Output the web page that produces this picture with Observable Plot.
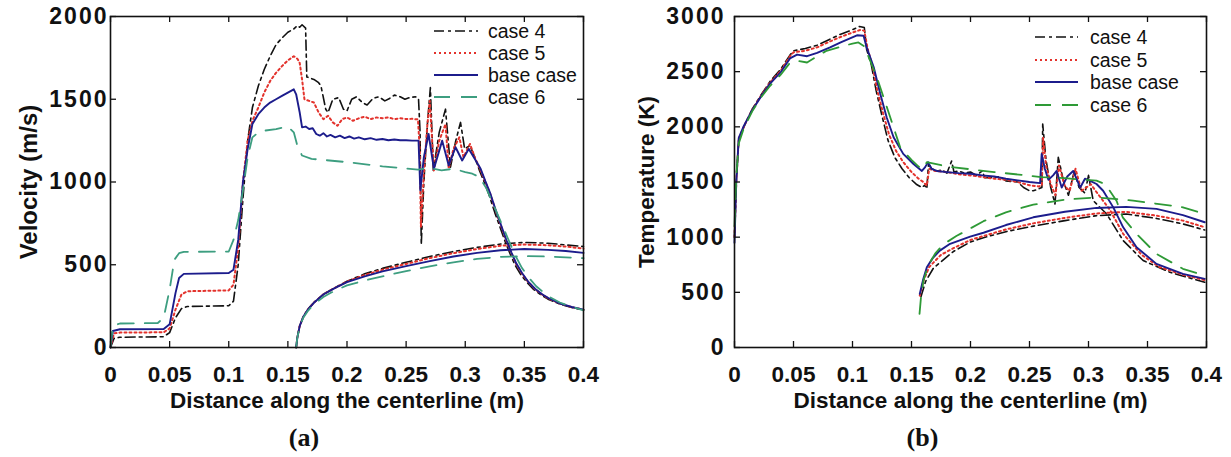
<!DOCTYPE html>
<html><head><meta charset="utf-8">
<script src="https://cdn.jsdelivr.net/npm/d3@7"></script>
<script src="https://cdn.jsdelivr.net/npm/@observablehq/plot@0.6"></script>
<style>
body{margin:0;background:#fff;font-family:"Liberation Sans",Arial,sans-serif}
#wrap{position:relative;width:1231px;height:457px;overflow:hidden;background:#fff}
#wrap > svg{position:absolute;top:0}
.lg{position:absolute;display:flex;align-items:center;height:22px;font-size:19.5px;color:#111;white-space:nowrap}
</style></head><body><div id="wrap"></div>
<script>
// ---------- shared ----------
const caseNames = ["case 4", "case 5", "base case", "case 6"];
const xTicks = [0, 0.05, 0.1, 0.15, 0.2, 0.25, 0.3, 0.35, 0.4];
const xTickLabels = ["0", "0.05", "0.1", "0.15", "0.2", "0.25", "0.3", "0.35", "0.4"];
const xTitle = "Distance along the centerline (m)";

// ---------- panel (a): velocity ----------
const velTicks = [0, 500, 1000, 1500, 2000];
const velTickLabels = ["0", "500", "1000", "1500", "2000"];
const velTitle = "Velocity (m/s)";

const velCase4Main = [[0,0],[0.003,55],[0.008,62],[0.045,65],[0.05,90],[0.055,180],[0.06,235],[0.065,248],[0.1,252],[0.104,280],[0.108,500],[0.112,900],[0.116,1250],[0.12,1450],[0.125,1580],[0.13,1680],[0.135,1760],[0.14,1830],[0.145,1870],[0.15,1905],[0.155,1925],[0.158,1945],[0.16,1935],[0.162,1950],[0.165,1930],[0.166,1635],[0.172,1620],[0.176,1600],[0.178,1580],[0.182,1440],[0.184,1420],[0.188,1500],[0.193,1510],[0.197,1440],[0.2,1430],[0.204,1500],[0.208,1515],[0.213,1480],[0.217,1465],[0.222,1505],[0.227,1515],[0.232,1490],[0.236,1505],[0.24,1525],[0.245,1515],[0.249,1500],[0.253,1510],[0.258,1515],[0.2605,1500],[0.2618,1300],[0.2628,620],[0.265,1000],[0.268,1350],[0.2705,1570],[0.273,1070],[0.278,1300],[0.2833,1440],[0.2875,1090],[0.292,1250],[0.296,1360],[0.2995,1200],[0.304,1220],[0.308,1150],[0.312,1070],[0.316,1000],[0.32,925],[0.325,815],[0.33,715],[0.334,635],[0.338,565],[0.342,500],[0.347,440],[0.352,395],[0.358,350],[0.364,318],[0.37,292],[0.38,262],[0.39,242],[0.4,226]];
const velCase4Arc = [[0.157,0],[0.158,60],[0.16,130],[0.163,185],[0.167,232],[0.172,272],[0.18,322],[0.19,362],[0.2,400],[0.215,445],[0.23,478],[0.25,515],[0.27,550],[0.29,580],[0.31,605],[0.33,625],[0.35,635],[0.37,630],[0.385,620],[0.4,610]];

const velCase5Main = [[0,0],[0.003,85],[0.008,90],[0.045,92],[0.05,115],[0.055,230],[0.06,320],[0.065,340],[0.1,345],[0.104,380],[0.108,600],[0.112,1000],[0.116,1250],[0.12,1370],[0.125,1450],[0.13,1540],[0.135,1610],[0.14,1660],[0.145,1700],[0.15,1735],[0.155,1760],[0.158,1745],[0.16,1720],[0.162,1620],[0.164,1500],[0.168,1490],[0.172,1480],[0.176,1420],[0.18,1380],[0.184,1400],[0.188,1360],[0.192,1340],[0.196,1380],[0.2,1390],[0.205,1370],[0.21,1385],[0.215,1395],[0.22,1380],[0.225,1390],[0.23,1385],[0.235,1390],[0.24,1380],[0.245,1385],[0.25,1380],[0.255,1382],[0.26,1378],[0.2615,1200],[0.2625,730],[0.265,1050],[0.268,1350],[0.27,1490],[0.2735,1070],[0.278,1250],[0.2833,1350],[0.286,1080],[0.29,1200],[0.295,1270],[0.2985,1150],[0.304,1230],[0.308,1150],[0.313,1070],[0.317,1000],[0.321,930],[0.326,820],[0.331,720],[0.335,640],[0.339,570],[0.343,505],[0.348,445],[0.353,398],[0.359,352],[0.365,320],[0.371,294],[0.38,265],[0.39,244],[0.4,228]];
const velCase5Arc = [[0.157,0],[0.158,60],[0.16,130],[0.163,185],[0.167,231],[0.172,271],[0.18,321],[0.19,361],[0.2,398],[0.215,438],[0.23,470],[0.25,505],[0.27,540],[0.29,570],[0.31,595],[0.33,615],[0.35,622],[0.37,618],[0.385,610],[0.4,598]];

const velBaseMain = [[0,0],[0.002,100],[0.008,110],[0.045,112],[0.05,140],[0.055,330],[0.058,420],[0.062,445],[0.1,450],[0.104,470],[0.108,650],[0.112,1000],[0.116,1200],[0.12,1350],[0.125,1410],[0.13,1450],[0.135,1480],[0.14,1500],[0.145,1520],[0.15,1540],[0.155,1560],[0.157,1530],[0.16,1420],[0.162,1330],[0.165,1335],[0.168,1320],[0.171,1325],[0.174,1290],[0.177,1280],[0.18,1295],[0.183,1275],[0.186,1285],[0.19,1270],[0.194,1280],[0.198,1265],[0.202,1275],[0.206,1262],[0.21,1270],[0.215,1258],[0.22,1265],[0.225,1255],[0.23,1260],[0.235,1252],[0.24,1257],[0.245,1252],[0.25,1252],[0.255,1250],[0.2605,1250],[0.262,950],[0.265,1150],[0.269,1290],[0.2735,1080],[0.2805,1250],[0.286,1100],[0.2918,1210],[0.2974,1130],[0.303,1200],[0.308,1140],[0.313,1080],[0.317,1005],[0.321,935],[0.326,825],[0.331,725],[0.335,645],[0.339,575],[0.343,510],[0.348,450],[0.353,400],[0.359,355],[0.365,322],[0.371,296],[0.38,266],[0.39,245],[0.4,229]];
const velBaseArc = [[0.157,0],[0.158,60],[0.16,130],[0.163,185],[0.167,230],[0.172,270],[0.18,320],[0.19,360],[0.2,395],[0.215,430],[0.23,460],[0.25,492],[0.27,522],[0.29,550],[0.31,572],[0.33,588],[0.35,595],[0.37,590],[0.385,583],[0.4,572]];

const velCase6Main = [[0,0],[0.002,130],[0.008,145],[0.04,148],[0.045,180],[0.05,350],[0.054,530],[0.058,570],[0.062,578],[0.1,580],[0.104,650],[0.108,770],[0.112,950],[0.116,1150],[0.12,1270],[0.125,1300],[0.13,1310],[0.14,1320],[0.15,1335],[0.155,1300],[0.158,1220],[0.162,1160],[0.17,1140],[0.2,1120],[0.23,1095],[0.26,1075],[0.27,1085],[0.28,1070],[0.29,1080],[0.3,1060],[0.306,1050],[0.312,1030],[0.318,960],[0.324,860],[0.33,760],[0.336,660],[0.342,560],[0.348,480],[0.354,420],[0.36,370],[0.37,310],[0.38,272],[0.39,245],[0.4,225]];
const velCase6Arc = [[0.157,0],[0.158,60],[0.16,125],[0.163,180],[0.167,222],[0.172,260],[0.18,305],[0.19,345],[0.2,375],[0.215,405],[0.23,430],[0.25,462],[0.27,490],[0.29,515],[0.31,535],[0.33,548],[0.35,552],[0.37,550],[0.385,545],[0.4,540]];

// ---------- panel (b): temperature ----------
const tempTicks = [0, 500, 1000, 1500, 2000, 2500, 3000];
const tempTickLabels = ["0", "500", "1000", "1500", "2000", "2500", "3000"];
const tempTitle = "Temperature (K)";

const tempCase4Main = [[0,1000],[0.0015,1500],[0.0036,1880],[0.008,2000],[0.015,2160],[0.022,2280],[0.03,2410],[0.039,2520],[0.047,2650],[0.05,2689],[0.06,2710],[0.07,2740],[0.08,2790],[0.09,2840],[0.1,2880],[0.106,2910],[0.11,2900],[0.112,2700],[0.116,2560],[0.12,2330],[0.125,2100],[0.13,1880],[0.136,1720],[0.142,1620],[0.148,1540],[0.154,1480],[0.1588,1450],[0.161,1470],[0.163,1440],[0.1644,1663],[0.167,1620],[0.172,1600],[0.176,1610],[0.18,1580],[0.184,1690],[0.186,1590],[0.19,1600],[0.195,1580],[0.2,1590],[0.205,1560],[0.21,1600],[0.212,1540],[0.22,1540],[0.225,1550],[0.23,1510],[0.24,1500],[0.245,1450],[0.25,1420],[0.2532,1421],[0.256,1430],[0.2605,1450],[0.2612,2026],[0.264,1700],[0.268,1450],[0.2716,1301],[0.2744,1723],[0.279,1500],[0.283,1380],[0.288,1600],[0.292,1450],[0.297,1400],[0.3,1560],[0.304,1331],[0.3153,1211],[0.3294,969],[0.3463,788],[0.3689,682],[0.3985,591]];
const tempCase4Arc = [[0.158,460],[0.162,600],[0.1686,720],[0.1855,870],[0.1997,955],[0.211,995],[0.23,1050],[0.2532,1100],[0.28,1150],[0.3068,1195],[0.332,1210],[0.3576,1170],[0.38,1120],[0.3985,1065]];

const tempCase5Main = [[0,1000],[0.0015,1500],[0.0036,1890],[0.008,2005],[0.015,2155],[0.022,2275],[0.03,2400],[0.039,2505],[0.047,2640],[0.05,2675],[0.06,2690],[0.07,2720],[0.08,2770],[0.09,2815],[0.1,2855],[0.107,2880],[0.11,2870],[0.113,2700],[0.117,2550],[0.121,2330],[0.126,2120],[0.131,1930],[0.137,1780],[0.143,1680],[0.15,1590],[0.156,1530],[0.16,1500],[0.163,1467],[0.165,1620],[0.17,1600],[0.18,1590],[0.19,1570],[0.2,1560],[0.21,1545],[0.22,1530],[0.23,1520],[0.24,1500],[0.25,1470],[0.258,1460],[0.2605,1470],[0.2615,1900],[0.264,1650],[0.268,1480],[0.272,1380],[0.275,1650],[0.28,1460],[0.284,1420],[0.289,1620],[0.294,1420],[0.298,1450],[0.302,1480],[0.306,1420],[0.318,1250],[0.3294,1030],[0.345,840],[0.36,730],[0.38,660],[0.3985,610]];
const tempCase5Arc = [[0.157,470],[0.16,600],[0.165,730],[0.175,840],[0.1855,900],[0.2,975],[0.211,1010],[0.23,1070],[0.2532,1125],[0.28,1175],[0.3068,1215],[0.332,1230],[0.3576,1195],[0.38,1150],[0.3985,1090]];

const tempBaseMain = [[0,950],[0.0015,1500],[0.0036,1900],[0.008,2010],[0.015,2150],[0.022,2267],[0.03,2390],[0.039,2493],[0.047,2620],[0.053,2655],[0.0615,2640],[0.07,2670],[0.081,2720],[0.09,2765],[0.1038,2830],[0.1094,2825],[0.112,2720],[0.118,2540],[0.1235,2300],[0.129,2085],[0.1348,1905],[0.143,1755],[0.1517,1663],[0.1588,1600],[0.1616,1635],[0.164,1680],[0.167,1620],[0.1715,1600],[0.18,1590],[0.19,1580],[0.2,1575],[0.21,1560],[0.22,1550],[0.23,1530],[0.24,1515],[0.25,1500],[0.259,1490],[0.2603,1754],[0.263,1620],[0.266,1520],[0.27,1560],[0.273,1600],[0.2773,1450],[0.282,1550],[0.287,1600],[0.293,1450],[0.297,1530],[0.301,1512],[0.3068,1482],[0.3124,1421],[0.321,1270],[0.3294,1089],[0.3407,908],[0.3576,758],[0.38,667],[0.3985,622]];
const tempBaseArc = [[0.157,486],[0.16,620],[0.163,727],[0.168,810],[0.174,878],[0.1827,940],[0.1997,1005],[0.211,1040],[0.23,1110],[0.2532,1180],[0.28,1230],[0.3068,1265],[0.332,1275],[0.3576,1256],[0.38,1200],[0.3985,1135]];

const tempCase6Main = [[0,1100],[0.0015,1550],[0.0036,1850],[0.008,1990],[0.015,2140],[0.022,2260],[0.03,2370],[0.039,2470],[0.047,2580],[0.053,2599],[0.0615,2583],[0.07,2640],[0.078,2689],[0.09,2725],[0.1,2755],[0.105,2765],[0.11,2730],[0.1207,2448],[0.13,2150],[0.1404,1814],[0.15,1700],[0.156,1640],[0.16,1620],[0.163,1680],[0.17,1665],[0.18,1640],[0.2,1615],[0.22,1590],[0.25,1557],[0.26,1545],[0.27,1540],[0.28,1535],[0.29,1525],[0.3068,1512],[0.312,1490],[0.318,1421],[0.3237,1331],[0.329,1180],[0.3407,1030],[0.3576,848],[0.38,713],[0.3985,652]];
const tempCase6Arc = [[0.1568,305],[0.158,450],[0.16,600],[0.164,740],[0.17,850],[0.177,935],[0.188,1010],[0.2,1080],[0.211,1145],[0.23,1225],[0.2532,1295],[0.28,1340],[0.3068,1361],[0.3378,1331],[0.36,1300],[0.38,1270],[0.3985,1210]];

// ---------- styles ----------
const lineColors = ["#111111", "#e3322c", "#1c1c8c", "#3d9e80"];
const lineColorsB = ["#111111", "#e3322c", "#1c1c8c", "#2e9a36"];
const lineDash = ["10,4,3,4", "2,3", null, "16,11"];
const lineWidth = [1.6, 2, 1.9, 1.8];

function rowsOf(mainArr, arcArr, name) {
  const out = [];
  mainArr.forEach(([x, y]) => out.push({x, y, series: name, seg: name + " main"}));
  arcArr.forEach(([x, y]) => out.push({x, y, series: name, seg: name + " arc"}));
  return out;
}

const velData = [
  rowsOf(velCase4Main, velCase4Arc, caseNames[0]),
  rowsOf(velCase5Main, velCase5Arc, caseNames[1]),
  rowsOf(velBaseMain, velBaseArc, caseNames[2]),
  rowsOf(velCase6Main, velCase6Arc, caseNames[3])
];
const tempData = [
  rowsOf(tempCase4Main, tempCase4Arc, caseNames[0]),
  rowsOf(tempCase5Main, tempCase5Arc, caseNames[1]),
  rowsOf(tempBaseMain, tempBaseArc, caseNames[2]),
  rowsOf(tempCase6Main, tempCase6Arc, caseNames[3])
];

function panel(cfg) {
  const innerW = cfg.width - cfg.ml - cfg.mr;
  const innerH = cfg.height - cfg.mt - cfg.mb;
  const marks = [];
  cfg.data.forEach((rows, i) => {
    marks.push(Plot.line(rows, {
      x: "x", y: "y", z: "seg",
      stroke: cfg.colors[i], strokeWidth: lineWidth[i],
      strokeDasharray: lineDash[i] || undefined
    }));
  });
  marks.push(
    Plot.frame({stroke: "#111", strokeWidth: 1.6}),
    Plot.ruleX(xTicks, {x: d => d, stroke: "#111", strokeWidth: 1.3, insetTop: innerH - 6}),
    Plot.ruleX(xTicks, {x: d => d, stroke: "#111", strokeWidth: 1.3, insetBottom: innerH - 6}),
    Plot.ruleY(cfg.yTicks, {y: d => d, stroke: "#111", strokeWidth: 1.3, insetRight: innerW - 6}),
    Plot.ruleY(cfg.yTicks, {y: d => d, stroke: "#111", strokeWidth: 1.3, insetLeft: innerW - 6}),
    Plot.axisX(xTicks, {tickSize: 0, tickPadding: 19, label: null, fontSize: 22.5, fontWeight: "bold", fill: "#111",
      tickFormat: d => xTickLabels[xTicks.indexOf(d)]}),
    Plot.axisY(cfg.yTicks, {tickSize: 0, tickPadding: cfg.yPad, label: null, fontSize: 23, fontWeight: "bold", fill: "#111",
      tickFormat: d => cfg.yLabels[cfg.yTicks.indexOf(d)]}),
    Plot.text([xTitle], {text: d => d, frameAnchor: "bottom", dy: 53, lineAnchor: "middle", fontSize: 22.5, fontWeight: "bold", fill: "#111"}),
    Plot.text([cfg.yTitle], {text: d => d, frameAnchor: "left", textAnchor: "middle", rotate: -90, dx: cfg.yTitleDx, lineAnchor: "middle", fontSize: cfg.yTitleSize, fontWeight: "bold", fill: "#111"}),
    Plot.text([cfg.caption], {text: d => d, frameAnchor: "bottom", dx: cfg.capDx, dy: 90, lineAnchor: "middle", fontSize: 26, fontWeight: "bold", fontFamily: "'Liberation Serif','Times New Roman',serif", fill: "#111"})
  );
  const svg = Plot.plot({
    width: cfg.width, height: cfg.height,
    marginLeft: cfg.ml, marginRight: cfg.mr, marginTop: cfg.mt, marginBottom: cfg.mb,
    style: {fontFamily: "'Liberation Sans',Arial,sans-serif", background: "transparent", overflow: "visible"},
    x: {domain: [0, 0.4]},
    y: {domain: cfg.yDomain},
    marks
  });
  d3.select(svg).selectAll('g[aria-label="y-axis tick label"] text').attr("letter-spacing", "2px");
  return svg;
}

const wrap = document.getElementById("wrap");
const svgA = panel({width: 615, height: 457, ml: 110, mr: 32, mt: 16, mb: 110,
  data: velData, colors: lineColors, yTicks: velTicks, yLabels: velTickLabels, yDomain: [0, 2000],
  yPad: 2, yTitle: velTitle, yTitleDx: -81, yTitleSize: 24, caption: "(a)", capDx: -43});
svgA.style.left = "0px";
wrap.appendChild(svgA);

const svgB = panel({width: 616, height: 457, ml: 119, mr: 25, mt: 16, mb: 110,
  data: tempData, colors: lineColorsB, yTicks: tempTicks, yLabels: tempTickLabels, yDomain: [0, 3000],
  yPad: 9, yTitle: tempTitle, yTitleDx: -88, yTitleSize: 22.5, caption: "(b)", capDx: -48});
svgB.style.left = "615px";
wrap.appendChild(svgB);

// ---------- legends (HTML overlay) ----------
function legend(left, tops, lineLen, gap, colors) {
  caseNames.forEach((name, i) => {
    const row = document.createElement("div");
    row.className = "lg";
    row.style.left = left + "px";
    row.style.top = (tops[i] - 11) + "px";
    const s = d3.create("svg").attr("width", lineLen).attr("height", 6).style("margin-right", gap + "px");
    s.append("line").attr("x1", 0).attr("x2", lineLen).attr("y1", 3).attr("y2", 3)
      .attr("stroke", colors[i]).attr("stroke-width", lineWidth[i])
      .attr("stroke-dasharray", lineDash[i]);
    row.appendChild(s.node());
    const t = document.createElement("span");
    t.textContent = name;
    row.appendChild(t);
    wrap.appendChild(row);
  });
}
legend(434, [31, 53, 75, 97], 44, 10, lineColors);
legend(1035, [37, 60, 82, 105], 43, 12, lineColorsB);
</script>
</body></html>
